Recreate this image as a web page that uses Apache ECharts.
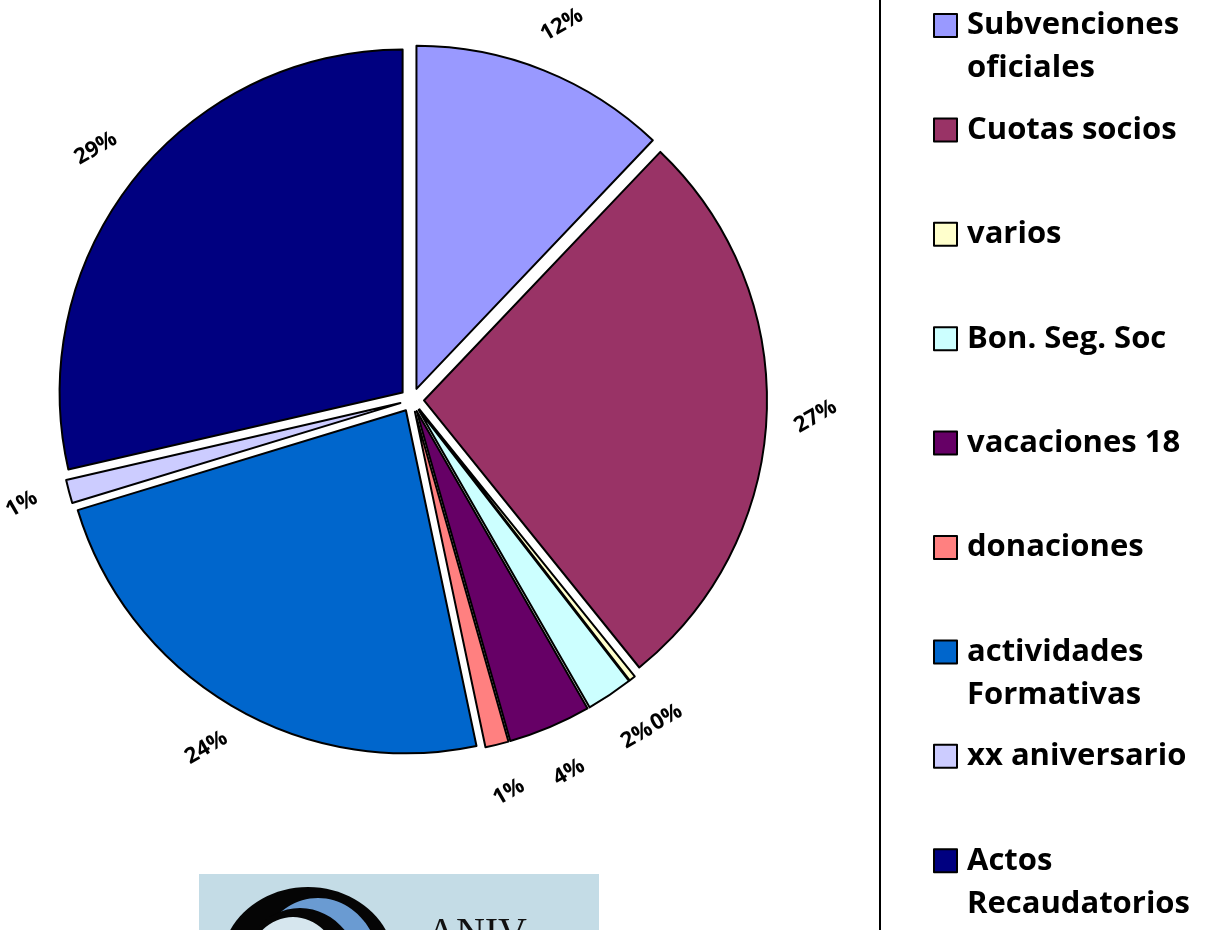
<!DOCTYPE html>
<html>
<head>
<meta charset="utf-8">
<script src="https://cdn.jsdelivr.net/npm/echarts@6/dist/echarts.min.js"></script>
<style>
html,body{margin:0;padding:0;background:#fff;}
#chart{width:1225px;height:930px;}
</style>
</head>
<body>
<div id="chart"></div>
<script>
// ---- data ----
const categories = ['Subvenciones\noficiales', 'Cuotas socios', 'varios', 'Bon. Seg. Soc', 'vacaciones 18', 'donaciones', 'actividades\nFormativas', 'xx aniversario', 'Actos\nRecaudatorios'];
const values = [12.1, 27.1, 0.3, 2.2, 3.9, 1.1, 23.6, 1.1, 28.6];
const colors = ['#9999FF', '#993366', '#FFFFCC', '#CCFFFF', '#660066', '#FF8080', '#0066CC', '#CCCCFF', '#000080'];

const chart = echarts.init(document.getElementById('chart'), null, {renderer: 'canvas'});
const FONT = '"Open Sans"';
const center = [412, 400];
const R = 343;
const LR = R + 116;

const pieData = categories.map((c, i) => ({
  name: c, value: values[i], selected: true,
  itemStyle: {color: colors[i]},
  select: {itemStyle: {color: colors[i], borderColor: '#000', borderWidth: 2}}
}));
// labels: tiny slices get an outside label placed beside the neighbouring label
const labelData = categories.map((c, i) => {
  const d = {name: c, value: values[i]};
  if (values[i] < 0.5) {
    d.label = {position: 'outside', distanceToLabelLine: 4};
    d.labelLine = {show: false, length: 415 - LR, length2: -21};
  }
  return d;
});

const legends = categories.map((c, i) => {
  const twoLine = c.indexOf('\n') >= 0;
  const lh = 43;
  const iconCenter = 25.5 + i * 104.4;
  const H = twoLine ? lh * 3 : lh;
  return {
    data: [c],
    orient: 'vertical',
    left: 933,
    top: iconCenter - H / 2,
    padding: 0,
    icon: 'rect',
    itemWidth: 23,
    itemHeight: 23,
    selectedMode: false,
    formatter: (n) => twoLine ? ' \n' + n : n,
    itemStyle: {borderColor: '#000', borderWidth: 2},
    textStyle: {
      fontFamily: FONT, fontWeight: 'bold', fontSize: 31, color: '#000',
      lineHeight: lh, padding: [0, 0, 0, 5]
    }
  };
});

const option = {
  backgroundColor: '#fff',
  animation: false,
  legend: legends,
  series: [
    {
      type: 'pie',
      center: center,
      radius: [0, R],
      startAngle: 90,
      clockwise: true,
      selectedMode: 'multiple',
      selectedOffset: 12,
      avoidLabelOverlap: false,
      label: {show: false},
      labelLine: {show: false},
      emphasis: {disabled: true},
      itemStyle: {borderColor: '#000', borderWidth: 2},
      data: pieData
    },
    {
      type: 'pie',
      center: center,
      radius: [R, LR],
      startAngle: 90,
      clockwise: true,
      silent: true,
      selectedMode: false,
      percentPrecision: 2,
      minShowLabelAngle: 0,
      avoidLabelOverlap: false,
      legendHoverLink: false,
      itemStyle: {color: 'rgba(0,0,0,0)', borderWidth: 0},
      emphasis: {disabled: true},
      labelLine: {show: false},
      label: {
        show: true, position: 'inside', rotate: 30,
        formatter: (p) => Math.round(p.percent) + '%',
        fontFamily: FONT, fontWeight: 'bold', fontSize: 22, color: '#000'
      },
      data: labelData
    }
  ],
  graphic: [
    {type: 'line', shape: {x1: 880, y1: 0, x2: 880, y2: 930}, style: {stroke: '#000', lineWidth: 2}, silent: true},
    {type: 'group', silent: true, children: [
      {type: 'rect', shape: {x: 199, y: 874, width: 400, height: 60}, style: {fill: '#C4DCE6'}},
      {type: 'ellipse', shape: {cx: 308, cy: 965, rx: 87, ry: 78}, style: {fill: '#050505'}},
      {type: 'ellipse', shape: {cx: 318, cy: 968, rx: 62, ry: 70}, style: {fill: '#6A9BD2'}},
      {type: 'ellipse', shape: {cx: 300, cy: 980, rx: 62, ry: 72}, style: {fill: '#050505'}},
      {type: 'ellipse', shape: {cx: 293, cy: 985, rx: 52, ry: 68}, style: {fill: '#D6E6EE'}},
      {type: 'text', x: 427, y: 914, style: {text: 'ANIV', fontFamily: 'Liberation Serif', fontSize: 40, fill: '#111', textVerticalAlign: 'top'}}
    ]}
  ]
};
chart.setOption(option);
</script>
</body>
</html>
